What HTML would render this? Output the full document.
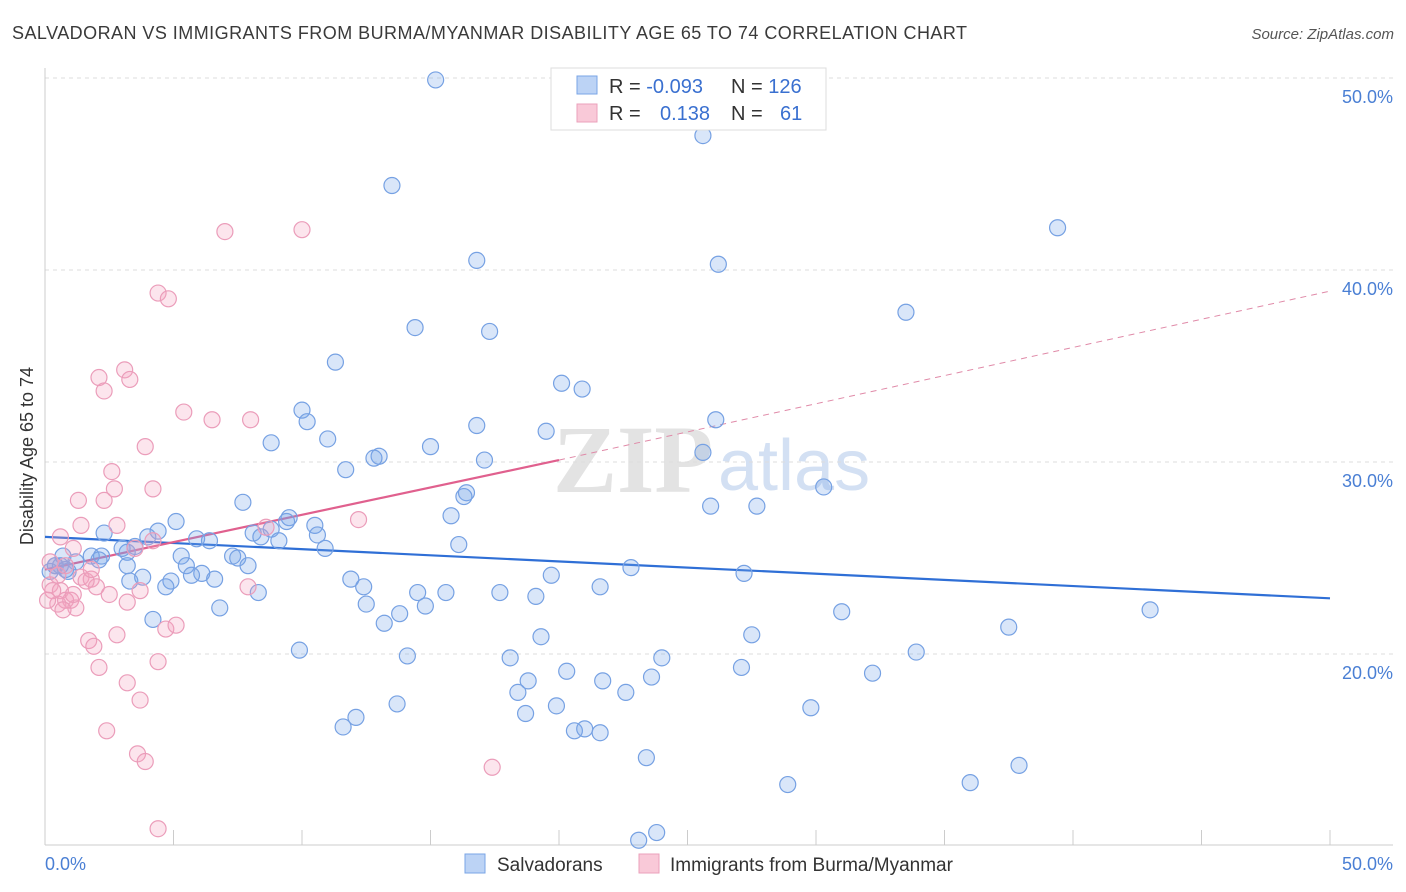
<!DOCTYPE html>
<html><head><meta charset="utf-8">
<style>
body{margin:0;background:#fff;font-family:"Liberation Sans",sans-serif;}
svg{display:block}
</style></head>
<body>
<svg id="chart" width="1406" height="892" xmlns="http://www.w3.org/2000/svg" font-family="Liberation Sans, sans-serif">
<text x="12" y="39" font-size="18" fill="#3a3a3a" textLength="955" lengthAdjust="spacing">SALVADORAN VS IMMIGRANTS FROM BURMA/MYANMAR DISABILITY AGE 65 TO 74 CORRELATION CHART</text>
<text x="1394" y="39" font-size="15" fill="#555" font-style="italic" text-anchor="end">Source: ZipAtlas.com</text>
<g>
<text x="553" y="492" font-size="96" fill="#e3e3e3" font-family="Liberation Serif, serif" font-weight="bold">ZIP</text>
<text x="718" y="490" font-size="72" fill="#d3e0f3">atlas</text>
</g>
<g id="grid"></g>
<g id="axes"></g>
<g id="lines"></g>
<g id="pts"></g>
<text transform="translate(33,456) rotate(-90)" font-size="18" fill="#333" text-anchor="middle">Disability Age 65 to 74</text>
<text x="45" y="870" font-size="18" fill="#4a7fd4">0.0%</text>
<text x="1393" y="870" font-size="18" fill="#4a7fd4" text-anchor="end">50.0%</text>
<g>
<rect x="551" y="68" width="275" height="62" fill="#fff" stroke="#ddd"/>
<rect x="577" y="76" width="20" height="18" fill="#bcd3f5" stroke="#7aa5e6"/>
<rect x="577" y="104" width="20" height="18" fill="#f9c9d8" stroke="#eba1bb"/>
<text x="609" y="93" font-size="20" fill="#333">R = <tspan fill="#3a70d0">-0.093</tspan><tspan x="731">N = </tspan><tspan fill="#3a70d0">126</tspan></text>
<text x="609" y="120" font-size="20" fill="#333">R = <tspan x="660" fill="#3a70d0">0.138</tspan><tspan x="731">N = </tspan><tspan x="780" fill="#3a70d0">61</tspan></text>
</g>
<g>
<rect x="465" y="854" width="20" height="19" fill="#bcd3f5" stroke="#7aa5e6"/>
<text x="497" y="871" font-size="19" fill="#333">Salvadorans</text>
<rect x="639" y="854" width="20" height="19" fill="#f9c9d8" stroke="#eba1bb"/>
<text x="670" y="871" font-size="19" fill="#333">Immigrants from Burma/Myanmar</text>
</g>
</svg>
<script>
const yTicks=[20,30,40,50];
const yTickLabels=["20.0%","30.0%","40.0%","50.0%"];
const xTicks=[0,5,10,15,20,25,30,35,40,45,50];
const blueX=[15.2,25.6,13.5,39.4,16.8,26.2,33.5,14.4,17.3,11.3,20.1,20.9,26.1,10.0,10.2,16.8,19.5,8.8,11.0,15.0,13.0,12.8,25.6,17.1,11.7,30.3,16.4,16.3,7.7,25.9,27.7,15.8,9.5,5.1,9.4,10.5,8.8,10.6,2.3,4.0,4.4,8.1,5.9,8.4,9.1,6.4,16.1,10.9,0.7,1.8,3.2,3.5,3.0,2.2,1.2,0.4,0.6,0.2,0.9,2.1,5.3,7.3,7.5,3.2,5.5,6.1,7.9,5.7,6.6,3.3,3.8,4.9,4.7,11.9,12.4,19.7,22.8,27.2,8.3,14.5,15.6,17.7,19.1,21.6,12.5,14.8,6.8,13.8,13.2,4.2,31.0,43.0,37.5,19.3,27.5,9.9,14.1,18.1,24.0,33.9,27.1,20.3,32.2,18.8,21.7,23.6,22.6,18.4,12.1,13.7,18.7,19.9,11.6,20.6,21.0,21.6,29.8,23.4,37.9,28.9,36.0,23.8,23.1,0.4,0.8];
const blueY=[49.9,47.0,44.4,42.2,40.5,40.3,37.8,37.0,36.8,35.2,34.1,33.8,32.2,32.7,32.1,31.9,31.6,31.0,31.2,30.8,30.3,30.2,30.5,30.1,29.6,28.7,28.4,28.2,27.9,27.7,27.7,27.2,27.1,26.9,26.9,26.7,26.5,26.2,26.3,26.1,26.4,26.3,26.0,26.1,25.9,25.9,25.7,25.5,25.1,25.1,25.3,25.6,25.5,25.1,24.8,24.6,24.6,24.3,24.3,24.9,25.1,25.1,25.0,24.6,24.6,24.2,24.6,24.1,23.9,23.8,24.0,23.8,23.5,23.9,23.5,24.1,24.5,24.2,23.2,23.2,23.2,23.2,23.0,23.5,22.6,22.5,22.4,22.1,21.6,21.8,22.2,22.3,21.4,20.9,21.0,20.2,19.9,19.8,19.8,20.1,19.3,19.1,19.0,18.6,18.6,18.8,18.0,18.0,16.7,17.4,16.9,17.3,16.2,16.0,16.1,15.9,17.2,14.6,14.2,13.2,13.3,10.7,10.3,24.6,24.4];
const pinkX=[7.0,10.0,4.4,4.8,3.1,2.1,3.3,2.3,5.4,6.5,8.0,3.9,2.6,2.7,4.2,1.3,2.3,2.8,1.4,0.6,4.2,8.6,12.2,1.1,3.5,0.2,0.8,1.4,1.8,2.0,0.2,0.6,1.0,0.5,0.8,1.2,2.5,3.2,3.7,4.7,5.1,1.7,1.9,2.8,2.1,3.2,4.4,3.7,2.4,3.6,3.9,17.4,4.4,7.9,1.6,0.5,0.3,1.1,0.7,0.1,1.8];
const pinkY=[42.0,42.1,38.8,38.5,34.8,34.4,34.3,33.7,32.6,32.2,32.2,30.8,29.5,28.6,28.6,28.0,28.0,26.7,26.7,26.1,25.9,26.6,27.0,25.5,25.5,24.8,24.6,24.0,23.9,23.5,23.6,23.3,22.8,22.6,22.8,22.4,23.1,22.7,23.3,21.3,21.5,20.7,20.4,21.0,19.3,18.5,19.6,17.6,16.0,14.8,14.4,14.1,10.9,23.5,23.8,24.1,23.3,23.1,22.3,22.8,24.4];
const blueTrend=[[0,26.1],[50,22.9]];
const pinkTrend=[[0,24.4],[20,30.1],[50,38.9]];

const NS="http://www.w3.org/2000/svg";
const xs=v=>45+v*25.7;
const ys=v=>654-(v-20)*19.2;
function mk(tag,attrs,parent){const e=document.createElementNS(NS,tag);for(const k in attrs)e.setAttribute(k,attrs[k]);parent.appendChild(e);return e;}
const grid=document.getElementById('grid'),axes=document.getElementById('axes'),lines=document.getElementById('lines'),pts=document.getElementById('pts');
yTicks.forEach((t,i)=>{
  const l=mk('line',{x1:45,x2:1393,y1:ys(t),y2:ys(t),stroke:'#ddd','stroke-dasharray':'4,4'},grid);
  
  
  const tx=mk('text',{x:1393,y:ys(t)+25,'font-size':18,fill:'#4a7fd4','text-anchor':'end'},grid);
  tx.textContent=yTickLabels[i];
  
  
});
mk('line',{x1:45,x2:45,y1:68,y2:845,stroke:'#ccc'},axes);
mk('line',{x1:45,x2:1393,y1:845,y2:845,stroke:'#ccc'},axes);
xTicks.forEach(t=>{
  const l=mk('line',{x1:xs(t),x2:xs(t),y1:830,y2:845,stroke:'#ccc'},axes);
  
  
});
const bl=mk('line',{x1:xs(blueTrend[0][0]),y1:ys(blueTrend[0][1]),x2:xs(blueTrend[1][0]),y2:ys(blueTrend[1][1]),stroke:'#2f6fd6','stroke-width':2.2},lines);


const pl=mk('line',{x1:xs(pinkTrend[0][0]),y1:ys(pinkTrend[0][1]),x2:xs(pinkTrend[1][0]),y2:ys(pinkTrend[1][1]),stroke:'#e0608e','stroke-width':2.2},lines);


const pd=mk('line',{x1:xs(pinkTrend[1][0]),y1:ys(pinkTrend[1][1]),x2:xs(pinkTrend[2][0]),y2:ys(pinkTrend[2][1]),stroke:'#e08aa8','stroke-width':1,'stroke-dasharray':'6,5'},lines);


blueX.forEach((x,i)=>{
  const c=mk('circle',{cx:xs(x),cy:ys(blueY[i]),r:8,fill:'rgba(120,165,235,0.28)',stroke:'#76a1e3','stroke-width':1.2},pts);
  
  
});
pinkX.forEach((x,i)=>{
  const c=mk('circle',{cx:xs(x),cy:ys(pinkY[i]),r:8,fill:'rgba(245,160,190,0.28)',stroke:'#eb9dba','stroke-width':1.2},pts);
  
  
});
</script>
</body></html>
